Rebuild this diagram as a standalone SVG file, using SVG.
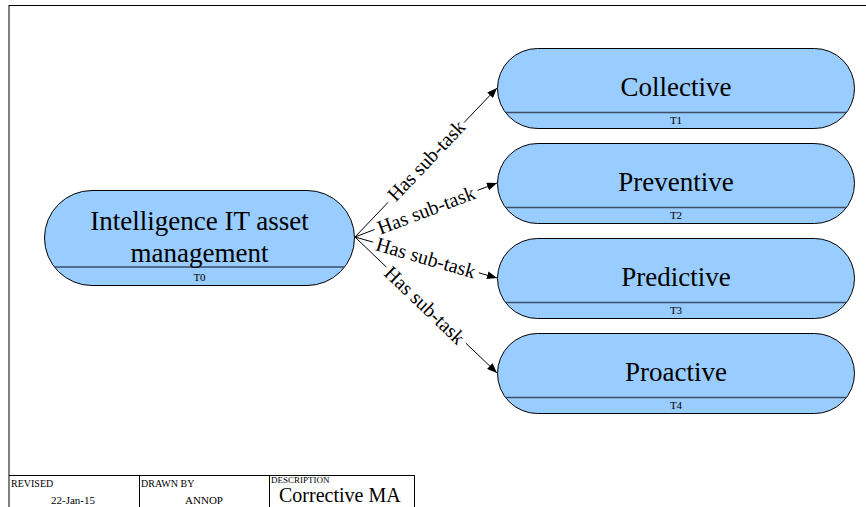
<svg xmlns="http://www.w3.org/2000/svg" width="866" height="507" viewBox="0 0 866 507">
  <style>
    .frame { stroke: #000; stroke-width: 1; fill: none; }
    .node rect { fill: #99ccff; stroke: #000; stroke-width: 1; }
    .node line { stroke: #3c4f66; stroke-width: 1.5; }
    .title { font-family: "Liberation Serif", "Times New Roman", serif; font-size: 27px; fill: #000; text-anchor: middle; }
    .id { font-family: "Liberation Serif", "Times New Roman", serif; font-size: 11px; fill: #000; text-anchor: middle; }
    .edge line { stroke: #000; stroke-width: 1; }
    .elabel { font-family: "Liberation Serif", "Times New Roman", serif; font-size: 20px; fill: #000; text-anchor: middle; }
    .cap { font-family: "Liberation Serif", "Times New Roman", serif; font-size: 10px; fill: #000; }
    .cap-sm { font-family: "Liberation Serif", "Times New Roman", serif; font-size: 9px; fill: #000; }
    .desc { font-family: "Liberation Serif", "Times New Roman", serif; font-size: 20px; fill: #000; }
    .val { font-family: "Liberation Serif", "Times New Roman", serif; font-size: 11px; fill: #000; text-anchor: middle; }
  </style>
  <defs>
    <marker id="arrow" viewBox="0 0 10 8" refX="10" refY="4" markerWidth="10" markerHeight="8" markerUnits="userSpaceOnUse" orient="auto">
      <path d="M0,0 L10,4 L0,8 z" fill="#000"/>
    </marker>
  </defs>

  <rect x="0" y="0" width="866" height="507" fill="#fff"/>

  <!-- sheet border -->
  <g id="frame">
    <line class="frame" x1="9" y1="5.5" x2="866" y2="5.5"/>
    <line class="frame" x1="9" y1="5" x2="9" y2="507"/>
  </g>

  <!-- connectors -->
  <g id="edges" class="edge">
    <g id="e1">
      <line x1="355" y1="237" x2="388.1" y2="202.3"/>
      <line x1="463.9" y1="122.7" x2="497" y2="88" marker-end="url(#arrow)"/>
      <text class="elabel" transform="translate(426,160.5) rotate(-46.4)" dy="0.35em">Has sub-task</text>
    </g>
    <g id="e2">
      <line x1="355" y1="237" x2="374.6" y2="229.5"/>
      <line x1="477.5" y1="190.4" x2="497" y2="183" marker-end="url(#arrow)"/>
      <text class="elabel" transform="translate(426,210) rotate(-20.8)" dy="0.35em">Has sub-task</text>
    </g>
    <g id="e3">
      <line x1="355" y1="237" x2="373.2" y2="242.2"/>
      <line x1="478.8" y1="272.8" x2="497" y2="278" marker-end="url(#arrow)"/>
      <text class="elabel" transform="translate(426,257.5) rotate(16.1)" dy="0.35em">Has sub-task</text>
    </g>
    <g id="e4">
      <line x1="355" y1="237" x2="386.3" y2="267"/>
      <line x1="465.7" y1="343" x2="497" y2="373" marker-end="url(#arrow)"/>
      <text class="elabel" transform="translate(425,305) rotate(43.8)" dy="0.35em">Has sub-task</text>
    </g>
  </g>

  <!-- task nodes -->
  <g id="T0" class="node">
    <rect x="44.5" y="190.5" width="310" height="95" rx="47.5" ry="47.5"/>
    <line x1="54.5" y1="267" x2="344.5" y2="267"/>
    <text class="title" x="199.5" y="230">Intelligence IT asset</text>
    <text class="title" x="199.5" y="262">management</text>
    <text class="id" x="199.5" y="281">T0</text>
  </g>

  <g id="T1" class="node">
    <rect x="497.5" y="48.5" width="357" height="80" rx="40" ry="40"/>
    <line x1="505.5" y1="112.5" x2="846.5" y2="112.5"/>
    <text class="title" x="676" y="95.5">Collective</text>
    <text class="id" x="676" y="123.5">T1</text>
  </g>

  <g id="T2" class="node">
    <rect x="497.5" y="143.5" width="357" height="80" rx="40" ry="40"/>
    <line x1="505.5" y1="207.5" x2="846.5" y2="207.5"/>
    <text class="title" x="676" y="190.5">Preventive</text>
    <text class="id" x="676" y="218.5">T2</text>
  </g>

  <g id="T3" class="node">
    <rect x="497.5" y="238.5" width="357" height="80" rx="40" ry="40"/>
    <line x1="505.5" y1="302.5" x2="846.5" y2="302.5"/>
    <text class="title" x="676" y="285.5">Predictive</text>
    <text class="id" x="676" y="313.5">T3</text>
  </g>

  <g id="T4" class="node">
    <rect x="497.5" y="333.5" width="357" height="80" rx="40" ry="40"/>
    <line x1="505.5" y1="397.5" x2="846.5" y2="397.5"/>
    <text class="title" x="676" y="380.5">Proactive</text>
    <text class="id" x="676" y="408.5">T4</text>
  </g>

  <!-- title block -->
  <g id="titleblock">
    <line class="frame" x1="9" y1="475.5" x2="415" y2="475.5"/>
    <line class="frame" x1="139.5" y1="475.5" x2="139.5" y2="507"/>
    <line class="frame" x1="269.5" y1="475.5" x2="269.5" y2="507"/>
    <line class="frame" x1="414.5" y1="475.5" x2="414.5" y2="507"/>
    <text class="cap" x="11" y="487">REVISED</text>
    <text class="val" x="73" y="504">22-Jan-15</text>
    <text class="cap" x="141" y="487">DRAWN BY</text>
    <text class="val" x="204" y="504">ANNOP</text>
    <text class="cap-sm" x="271" y="483">DESCRIPTION</text>
    <text class="desc" x="279" y="502">Corrective MA</text>
  </g>
</svg>
